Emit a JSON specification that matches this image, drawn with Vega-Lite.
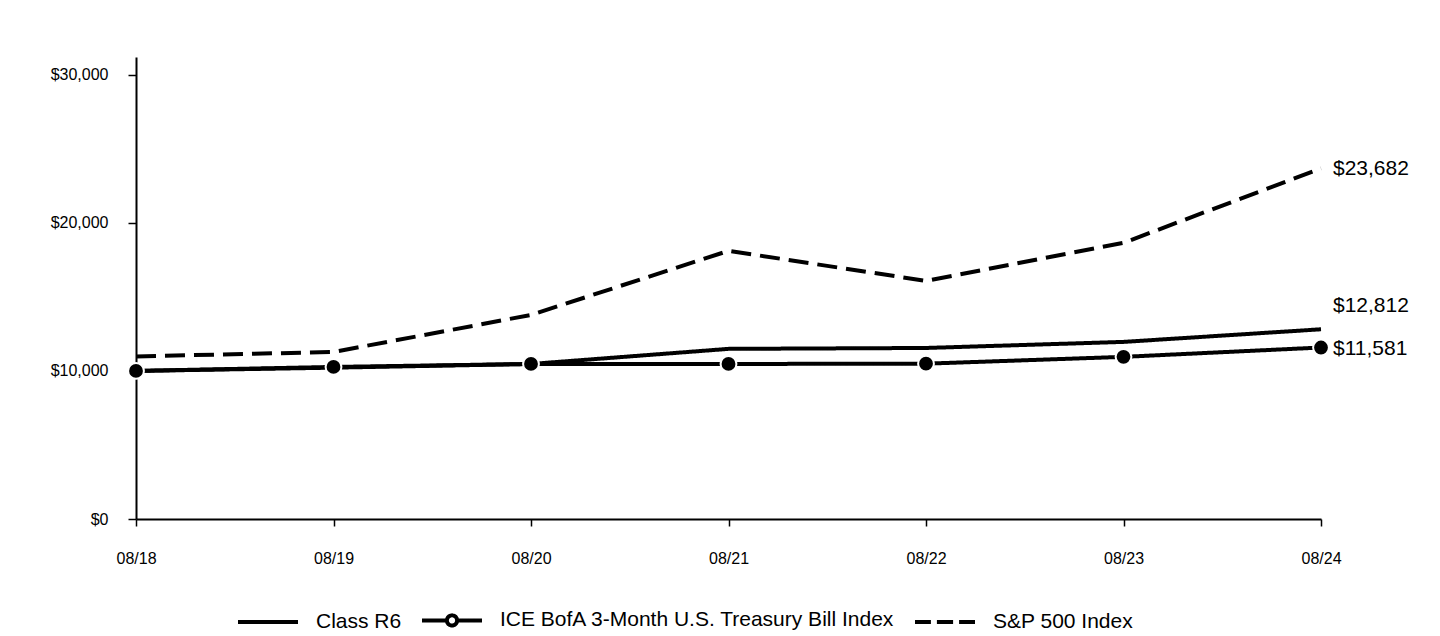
{
  "$schema": "https://vega.github.io/schema/vega-lite/v6.json",
  "width": 1185,
  "height": 462,
  "autosize": {"type": "none"},
  "padding": {"left": 136, "top": 57, "right": 119, "bottom": 117},
  "background": "white",
  "config": {
    "view": {"stroke": null},
    "font": "Liberation Sans",
    "axis": {
      "domainColor": "black",
      "domainWidth": 2,
      "tickColor": "black",
      "tickWidth": 1.5,
      "labelColor": "black",
      "labelFont": "Liberation Sans",
      "labelFontSize": 16,
      "grid": false,
      "title": null
    }
  },
  "data": {
    "values": [
      {"date": "08/18", "series": "Class R6", "value": 10000},
      {"date": "08/19", "series": "Class R6", "value": 10220},
      {"date": "08/20", "series": "Class R6", "value": 10470},
      {"date": "08/21", "series": "Class R6", "value": 11490},
      {"date": "08/22", "series": "Class R6", "value": 11550},
      {"date": "08/23", "series": "Class R6", "value": 11960},
      {"date": "08/24", "series": "Class R6", "value": 12812},
      {"date": "08/18", "series": "ICE BofA 3-Month U.S. Treasury Bill Index", "value": 10000},
      {"date": "08/19", "series": "ICE BofA 3-Month U.S. Treasury Bill Index", "value": 10270},
      {"date": "08/20", "series": "ICE BofA 3-Month U.S. Treasury Bill Index", "value": 10470},
      {"date": "08/21", "series": "ICE BofA 3-Month U.S. Treasury Bill Index", "value": 10470},
      {"date": "08/22", "series": "ICE BofA 3-Month U.S. Treasury Bill Index", "value": 10490},
      {"date": "08/23", "series": "ICE BofA 3-Month U.S. Treasury Bill Index", "value": 10950},
      {"date": "08/24", "series": "ICE BofA 3-Month U.S. Treasury Bill Index", "value": 11581},
      {"date": "08/18", "series": "S&P 500 Index", "value": 10980},
      {"date": "08/19", "series": "S&P 500 Index", "value": 11280},
      {"date": "08/20", "series": "S&P 500 Index", "value": 13780},
      {"date": "08/21", "series": "S&P 500 Index", "value": 18110},
      {"date": "08/22", "series": "S&P 500 Index", "value": 16080},
      {"date": "08/23", "series": "S&P 500 Index", "value": 18650},
      {"date": "08/24", "series": "S&P 500 Index", "value": 23682}
    ]
  },
  "encoding": {
    "x": {
      "field": "date",
      "type": "ordinal",
      "scale": {"type": "point", "padding": 0},
      "axis": {"labelAngle": 0, "tickSize": 7, "labelPadding": 24}
    },
    "y": {
      "field": "value",
      "type": "quantitative",
      "scale": {"domain": [0, 31200], "nice": false},
      "axis": {"values": [0, 10000, 20000, 30000], "format": "$,.0f", "tickSize": 8, "labelPadding": 20}
    }
  },
  "layer": [
    {
      "mark": {"type": "point", "filled": false, "color": "black", "strokeWidth": 4, "opacity": 0},
      "encoding": {
        "shape": {
          "field": "series",
          "type": "nominal",
          "scale": {
            "domain": ["Class R6", "ICE BofA 3-Month U.S. Treasury Bill Index", "S&P 500 Index"],
            "range": [
              "M-1,0H1",
              "M-1,0H-0.17M0.17,0H1M0.17,0A0.17,0.17,0,1,1,-0.17,0A0.17,0.17,0,1,1,0.17,0Z",
              "M-1,0H-0.47M-0.27,0H0.27M0.47,0H1"
            ]
          },
          "legend": {
            "title": null,
            "orient": "none",
            "direction": "horizontal",
            "legendX": 100,
            "legendY": 531,
            "padding": 0,
            "symbolSize": 3600,
            "symbolStrokeWidth": 4,
            "symbolStrokeColor": "black",
            "symbolFillColor": "white",
            "symbolOpacity": 1,
            "symbolOffset": 0,
            "labelOffset": 16,
            "labelFontSize": 21,
            "labelFont": "Liberation Sans",
            "labelColor": "black",
            "labelLimit": 600,
            "columnPadding": 12,
            "gridAlign": "each"
          }
        }
      }
    },
    {
      "mark": {"type": "line", "strokeWidth": 4, "color": "black"},
      "encoding": {
        "strokeDash": {
          "field": "series",
          "type": "nominal",
          "scale": {
            "domain": ["Class R6", "ICE BofA 3-Month U.S. Treasury Bill Index", "S&P 500 Index"],
            "range": [[1, 0], [1, 0], [20, 9]]
          },
          "legend": null
        }
      }
    },
    {
      "transform": [{"filter": "datum.series === 'ICE BofA 3-Month U.S. Treasury Bill Index'"}],
      "mark": {"type": "point", "filled": true, "shape": "circle", "size": 250, "fill": "black", "stroke": "white", "strokeWidth": 2, "opacity": 1}
    },
    {
      "transform": [{"filter": "datum.date === '08/24' && datum.series !== 'Class R6'"}],
      "mark": {"type": "text", "align": "left", "baseline": "middle", "dx": 12, "dy": 1, "fontSize": 21, "color": "black", "font": "Liberation Sans"},
      "encoding": {"text": {"field": "value", "type": "quantitative", "format": "$,.0f"}}
    },
    {
      "transform": [{"filter": "datum.date === '08/24' && datum.series === 'Class R6'"}],
      "mark": {"type": "text", "align": "left", "baseline": "middle", "dx": 12, "dy": -23, "fontSize": 21, "color": "black", "font": "Liberation Sans"},
      "encoding": {"text": {"field": "value", "type": "quantitative", "format": "$,.0f"}}
    }
  ]
}
